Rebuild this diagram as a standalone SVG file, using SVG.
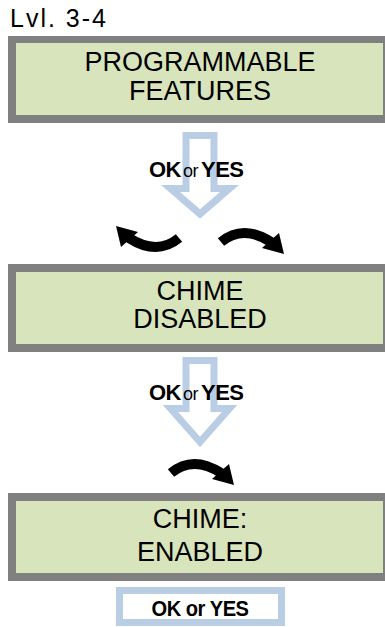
<svg xmlns="http://www.w3.org/2000/svg" width="385" height="627" viewBox="0 0 385 627">
<style>
.frame{fill:#808080}
.screen{fill:#d8e4bc}
.lcd{font-family:"Liberation Sans",Arial,sans-serif;font-size:27px;fill:#000;text-anchor:middle}
.big{fill:#fff;stroke:#b9cde5;stroke-width:7;stroke-linejoin:miter}
.key{font-family:"Liberation Sans",Arial,sans-serif;font-weight:bold;font-size:22px;fill:#000;letter-spacing:-0.5px}
.or{font-weight:normal;font-size:18px}
.curve{fill:none;stroke:#000;stroke-width:10}
</style>
<defs>
<g id="curveR">
<path class="curve" d="M4,15 Q26,-3 54,15"/>
<polygon points="45,21 62,6 67,27" fill="#000"/>
</g>
</defs>
<rect width="385" height="627" fill="#fff"/>
<text x="10" y="27" font-family="Liberation Sans,Arial,sans-serif" font-size="25" letter-spacing="2">Lvl. 3-4</text>

<g id="node1">
<rect class="frame" x="8" y="36" width="377" height="87"/>
<rect class="screen" x="16" y="43" width="367" height="72"/>
<text class="lcd" x="200" y="71">PROGRAMMABLE</text>
<text class="lcd" x="200" y="100">FEATURES</text>
</g>

<g id="node2">
<rect class="frame" x="8" y="264" width="377" height="88"/>
<rect class="screen" x="16" y="272" width="367" height="72"/>
<text class="lcd" x="200" y="300">CHIME</text>
<text class="lcd" x="200" y="328">DISABLED</text>
</g>

<g id="node3">
<rect class="frame" x="8" y="493" width="377" height="88"/>
<rect class="screen" x="16" y="501" width="367" height="72"/>
<text class="lcd" x="200" y="528">CHIME:</text>
<text class="lcd" x="200" y="561">ENABLED</text>
</g>

<g id="connectors">
<path class="big" d="M186,135.5 V188.5 H170.5 L200,214 L229.5,188.5 H214 V135.5 Z"/>
<text class="key" y="177"><tspan x="149">OK</tspan><tspan class="or" x="183">or</tspan><tspan x="201">YES</tspan></text>
<use href="#curveR" transform="translate(183,253) rotate(180)"/>
<use href="#curveR" transform="translate(217,227)"/>

<path class="big" d="M186,360.5 V408.5 H170.5 L200,442 L229.5,408.5 H214 V360.5 Z"/>
<text class="key" y="400"><tspan x="149">OK</tspan><tspan class="or" x="183">or</tspan><tspan x="201">YES</tspan></text>
<use href="#curveR" transform="translate(167,458)"/>
</g>

<g id="node4">
<rect x="119.5" y="590.5" width="162" height="32" fill="#fff" stroke="#b9cde5" stroke-width="7"/>
<text class="key" x="200" y="616" text-anchor="middle" textLength="97" lengthAdjust="spacingAndGlyphs">OK or YES</text>
</g>
</svg>
